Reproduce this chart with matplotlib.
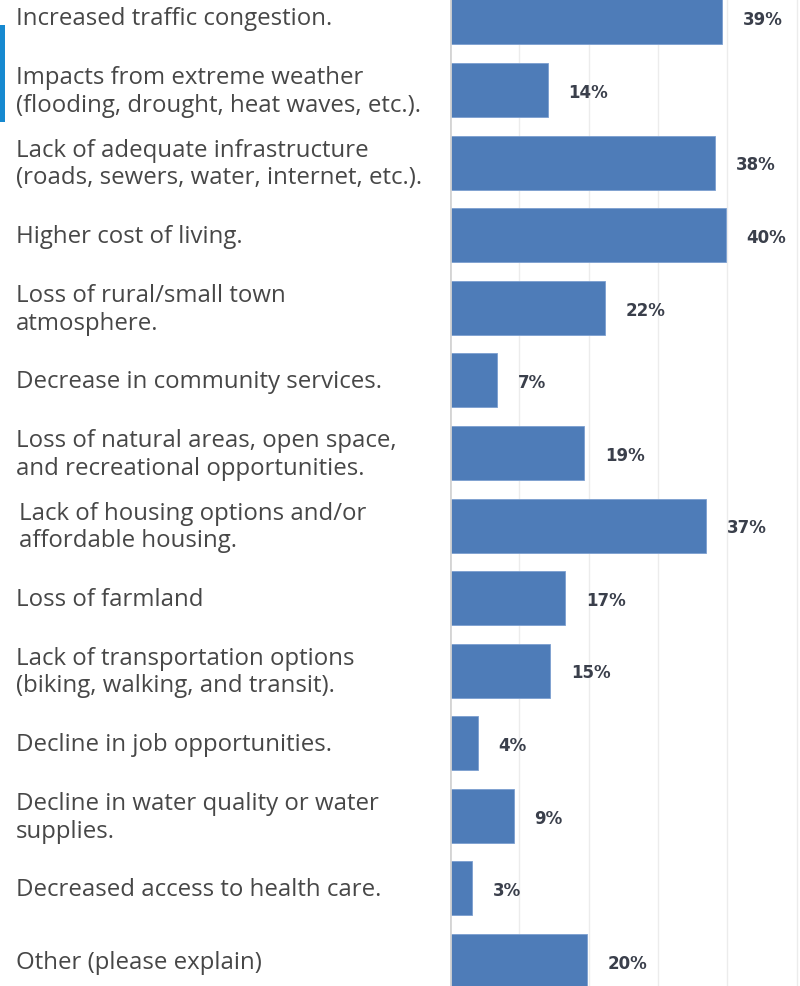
#!/usr/bin/env python3
"""
Horizontal bar chart: concerns about growth (survey shares)
"""

import matplotlib
matplotlib.use("Agg")
import matplotlib.pyplot as plt
import matplotlib.transforms as mtransforms
from matplotlib.patches import Rectangle

# data
categories = [
    "Increased traffic congestion.",
    "Impacts from extreme weather\n(flooding, drought, heat waves, etc.).",
    "Lack of adequate infrastructure\n(roads, sewers, water, internet, etc.).",
    "Higher cost of living.",
    "Loss of rural/small town\natmosphere.",
    "Decrease in community services.",
    "Loss of natural areas, open space,\nand recreational opportunities.",
    "Lack of housing options and/or\naffordable housing.",
    "Loss of farmland",
    "Lack of transportation options\n(biking, walking, and transit).",
    "Decline in job opportunities.",
    "Decline in water quality or water\nsupplies.",
    "Decreased access to health care.",
    "Other (please explain)",
]
shares = [39.3, 14.1, 38.2, 39.8, 22.3, 6.8, 19.4, 37.0, 16.6, 14.5, 4.0, 9.2, 3.2, 19.7]
shown = ["39%", "14%", "38%", "40%", "22%", "7%", "19%", "37%", "17%", "15%", "4%", "9%", "3%", "20%"]


def make_chart():
    fig = plt.figure(figsize=(8, 9.86), dpi=100)
    fig.patch.set_facecolor("white")

    ax = fig.add_axes([450 / 800, 0, 350 / 800, 1])
    ax.set_xlim(0, 50.5)
    ax.set_ylim(13.344, -0.240)

    ypos = list(range(len(categories)))
    ax.barh(ypos, shares, height=0.744, color="#4e7cb8",
            edgecolor="#7c9fd0", linewidth=0.6, zorder=3)

    # grid
    for gx in [10, 20, 30, 40, 50]:
        ax.axvline(gx, color="#ececec", lw=1, zorder=1)
    ax.axvline(0, color="#d4d4d4", lw=2, zorder=4)

    for spine in ax.spines.values():
        spine.set_visible(False)
    ax.set_xticks([])
    ax.set_yticks([])

    # value labels
    for y, v, s in zip(ypos, shares, shown):
        ax.annotate(s, xy=(v, y), xytext=(15, -2), textcoords="offset points",
                    ha="left", va="center", fontsize=12, fontweight="bold",
                    family="DejaVu Sans", color="#3a3f4b", zorder=5)

    # category labels on the left, nudged 2px down
    trans = mtransforms.blended_transform_factory(fig.transFigure, ax.transData)
    trans = trans + mtransforms.ScaledTranslation(0, -2 / 100, fig.dpi_scale_trans)
    for y, cat in zip(ypos, categories):
        x = 19 / 800 if cat.startswith("Lack of housing") else 16 / 800
        ax.text(x, y, cat, transform=trans, ha="left", va="center",
                fontsize=17.3, family="Open Sans", color="#474747",
                linespacing=1.2)

    # blue accent bar at left edge
    fig.patches.append(Rectangle((0, 1 - 122 / 986), 5 / 800, 97 / 986,
                                 transform=fig.transFigure, facecolor="#1689d0",
                                 edgecolor="none"))

    fig.savefig("out.png", dpi=100, facecolor="white")


if __name__ == "__main__":
    make_chart()
